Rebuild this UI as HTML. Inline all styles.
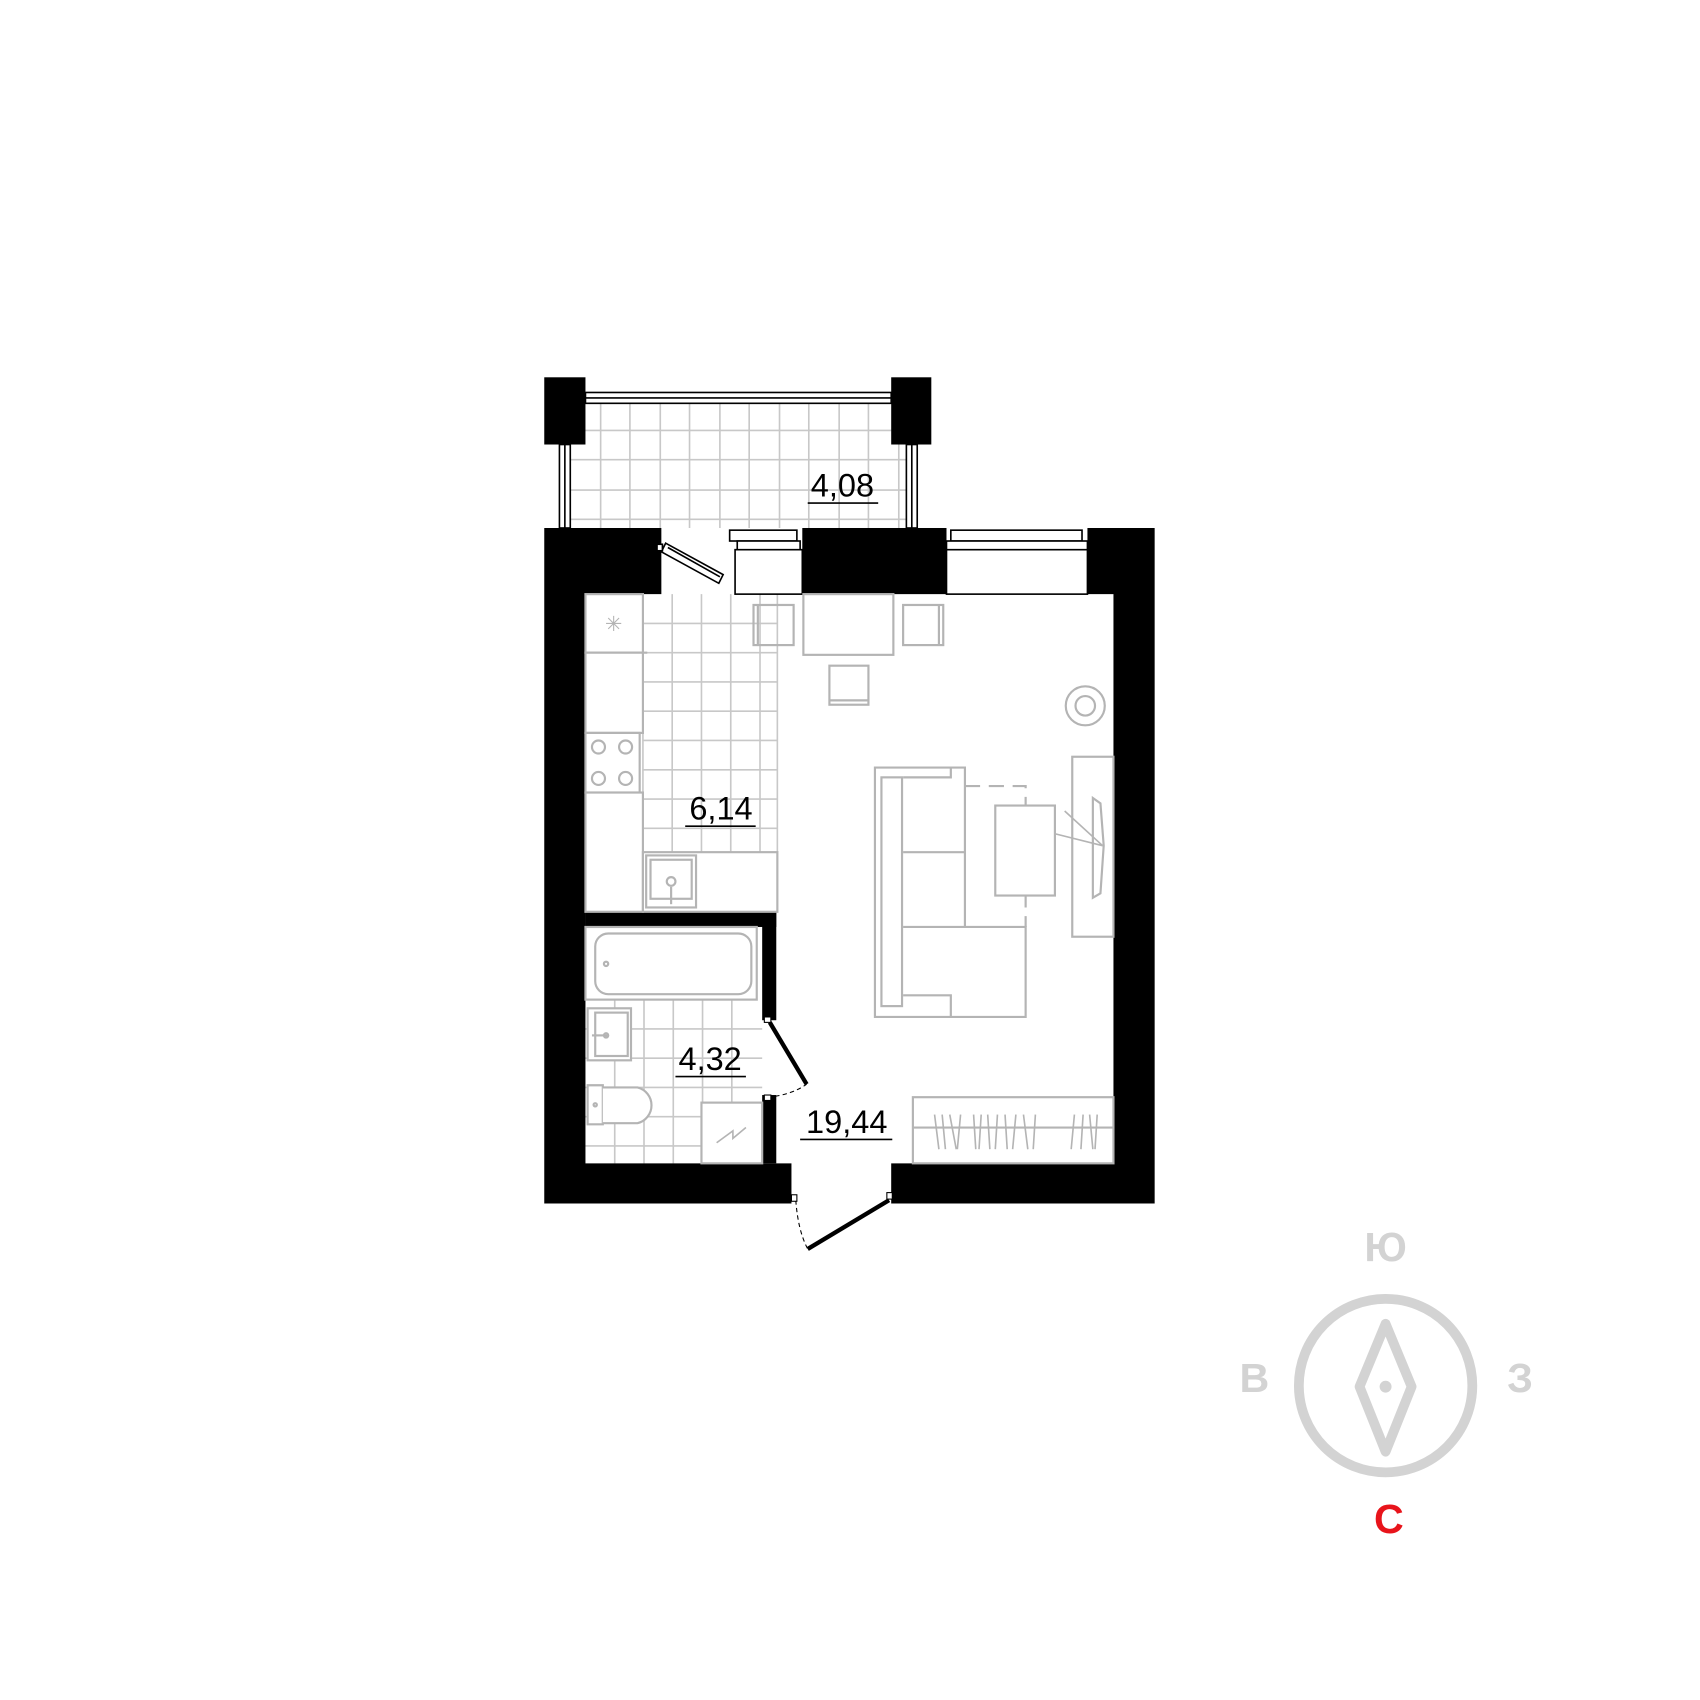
<!DOCTYPE html>
<html><head><meta charset="utf-8"><style>html,body{margin:0;padding:0;background:#fff}svg{display:block}</style></head>
<body>
<svg width="1700" height="1700" viewBox="0 0 1568 1568" xmlns="http://www.w3.org/2000/svg" font-family="Liberation Sans, DejaVu Sans, sans-serif">
<rect width="1568" height="1568" fill="#fff"/>
<g stroke="#c8c8c8" stroke-width="1.5" fill="none">
<path d="M554 372V487M581 372V487M609 372V487M636 372V487M664 372V487M691 372V487M719 372V487M746 372V487M774 372V487M801 372V487M829 372V487"/>
<path d="M526 397H836M526 424H836M526 452H836M526 479H836"/>
<path d="M593 548V786M620 548V786M647 548V786M674 548V786M701 548V786M717 548V786"/>
<path d="M593 575H717M593 602H717M593 629H717M593 656H717M593 683H717M593 710H717M593 737H717M593 764H717"/>
<path d="M567 922V1073M594 922V1073M621 922V1073M648 922V1073M675 922V1073"/>
<path d="M540 949H703M540 976H703M540 1003H703M540 1030H703M540 1057H703"/>
</g>
<g fill="#fff" stroke="#000" stroke-width="1.5">
<rect x="540" y="362" width="282" height="10"/><line x1="540" y1="367" x2="822" y2="367"/>
<rect x="516" y="410" width="10" height="77"/><line x1="521" y1="410" x2="521" y2="487"/>
<rect x="836" y="410" width="10" height="77"/><line x1="841" y1="410" x2="841" y2="487"/>
</g>
<rect x="502" y="348" width="38" height="62"/>
<rect x="822" y="348" width="37" height="62"/>
<path d="M502 487H610V548H540V1073H730V1110H502Z"/>
<rect x="740" y="487" width="133" height="61"/>
<path d="M1003 487H1065V1110H822V1073H1027V548H1003Z"/>
<rect x="540" y="841" width="176" height="14"/>
<rect x="703" y="841" width="13" height="100"/>
<rect x="703" y="1010" width="13" height="63"/>
<g fill="#fff" stroke="#000" stroke-width="1.5">
<rect x="678" y="507" width="62" height="41"/>
<rect x="673" y="489" width="62" height="10"/><rect x="680" y="499" width="58" height="8"/>
<rect x="873" y="507" width="130" height="41"/>
<rect x="877" y="489" width="121" height="10"/><rect x="873" y="499" width="130" height="8"/>
</g>
<g stroke="#000" stroke-width="1.5" fill="#fff">
<polygon points="614,501 667,530 663,538 610,509"/>
<line x1="616" y1="505" x2="664" y2="532"/>
<rect x="606" y="502" width="5" height="6"/>
</g>
<line x1="710" y1="943" x2="744" y2="1000" stroke="#000" stroke-width="4"/>
<path d="M708 1012 Q730 1010 744 1000" stroke="#000" stroke-width="1" fill="none" stroke-dasharray="4 3"/>
<rect x="705" y="938" width="6" height="5" fill="#fff" stroke="#000"/>
<rect x="705" y="1010" width="6" height="5" fill="#fff" stroke="#000"/>
<line x1="745" y1="1152" x2="820" y2="1107" stroke="#000" stroke-width="4"/>
<path d="M734 1107 Q736 1135 745 1152" stroke="#000" stroke-width="1" fill="none" stroke-dasharray="4 3"/>
<rect x="730" y="1102" width="5" height="6" fill="#fff" stroke="#000"/>
<rect x="818" y="1100" width="5" height="6" fill="#fff" stroke="#000"/>
<g stroke="#b4b4b4" stroke-width="2" fill="none">
<rect x="540" y="548" width="53" height="54" fill="#fff"/>
<path d="M559 575H573M566 568V582M561 570L571 580M571 570L561 580" stroke-width="1"/>
<line x1="593" y1="602" x2="597" y2="602"/>
<rect x="540" y="602" width="53" height="74" fill="#fff"/>
<rect x="540" y="676" width="50" height="55" fill="#fff"/>
<circle cx="552" cy="689" r="6"/><circle cx="577" cy="689" r="6"/>
<circle cx="552" cy="718" r="6"/><circle cx="577" cy="718" r="6"/>
<rect x="540" y="731" width="53" height="110" fill="#fff"/>
<rect x="593" y="786" width="124" height="55" fill="#fff"/>
<rect x="596" y="789" width="46" height="48"/><rect x="600" y="793" width="38" height="36"/>
<circle cx="619" cy="813" r="4"/><line x1="619" y1="818" x2="619" y2="834"/>
<rect x="540" y="855" width="158" height="67" fill="#fff"/>
<rect x="549" y="861" width="144" height="56" rx="12"/>
<circle cx="559" cy="889" r="2"/>
<rect x="542" y="930" width="40" height="48" fill="#fff"/><rect x="549" y="934" width="30" height="40"/>
<path d="M546 955H560" /><circle cx="559" cy="955" r="2"/>
<path d="M542 1001H556V1037H542Z" fill="#fff"/>
<path d="M556 1003H588A17 17 0 0 1 588 1036H556" fill="#fff"/>
<circle cx="549" cy="1019" r="1.5"/>
<rect x="647" y="1017" width="56" height="56" fill="#fff"/>
<path d="M661 1054L676 1043L676 1050L688 1040" stroke-width="1.5"/>
<rect x="695" y="558" width="37" height="37"/><line x1="699" y1="558" x2="699" y2="595"/>
<rect x="741" y="548" width="83" height="56"/>
<rect x="833" y="558" width="37" height="37"/><line x1="866" y1="558" x2="866" y2="595"/>
<rect x="765" y="614" width="36" height="36"/><line x1="765" y1="646" x2="801" y2="646"/>
<circle cx="1001" cy="651" r="18"/><circle cx="1001" cy="651" r="9"/>
<path d="M807 708H890V855H946V938H807Z"/>
<rect x="813" y="717" width="19" height="211"/>
<path d="M833 717H877V708M890 786H833M833 855H890M833 918H877V938"/>
<path d="M890 725H946V855" stroke-dasharray="14 8"/>
<rect x="918" y="743" width="55" height="83" fill="#fff"/>
<rect x="989" y="698" width="38" height="166"/>
<path d="M1008 736L1015 741L1018 780L1015 824L1008 828Z"/>
<path d="M973 769L1017 780M982 748L1017 780" stroke-width="1.5"/>
<rect x="842" y="1012" width="185" height="61"/>
<line x1="842" y1="1040" x2="1027" y2="1040"/>
<path d="M862 1028L866 1060M869 1028L872 1060M876 1028L882 1060M886 1028L883 1060M898 1028L900 1060M905 1028L903 1060M911 1028L913 1060M920 1028L918 1060M927 1028L929 1060M937 1028L934 1060M944 1028L948 1060M955 1028L953 1060M991 1028L988 1060M999 1028L997 1060M1005 1028L1008 1060M1012 1028L1010 1060" stroke-width="1.5"/>
</g>
<g font-size="30" text-anchor="middle" fill="#000">
<text x="777" y="458">4,08</text><line x1="745" y1="464" x2="810" y2="464" stroke="#000" stroke-width="1.5"/>
<text x="665" y="756">6,14</text><line x1="632" y1="762" x2="697" y2="762" stroke="#000" stroke-width="1.5"/>
<text x="655" y="987">4,32</text><line x1="623" y1="993" x2="688" y2="993" stroke="#000" stroke-width="1.5"/>
<text x="781" y="1045">19,44</text><line x1="738" y1="1051" x2="823" y2="1051" stroke="#000" stroke-width="1.5"/>
</g>
<circle cx="1278" cy="1278" r="80" fill="none" stroke="#d3d3d3" stroke-width="9"/>
<polygon points="1278,1221 1302,1279 1278,1339 1254,1279" fill="none" stroke="#d3d3d3" stroke-width="9" stroke-linejoin="round"/>
<circle cx="1278" cy="1279" r="5.5" fill="#d3d3d3"/>
<g font-size="38" font-weight="bold" text-anchor="middle">
<text x="1278" y="1163" fill="#d3d3d3">Ю</text>
<text x="1157" y="1284" fill="#d3d3d3">В</text>
<text x="1402" y="1284" fill="#d3d3d3">З</text>
<text x="1281" y="1414" fill="#e8141b">С</text>
</g>
</svg>
</body></html>
